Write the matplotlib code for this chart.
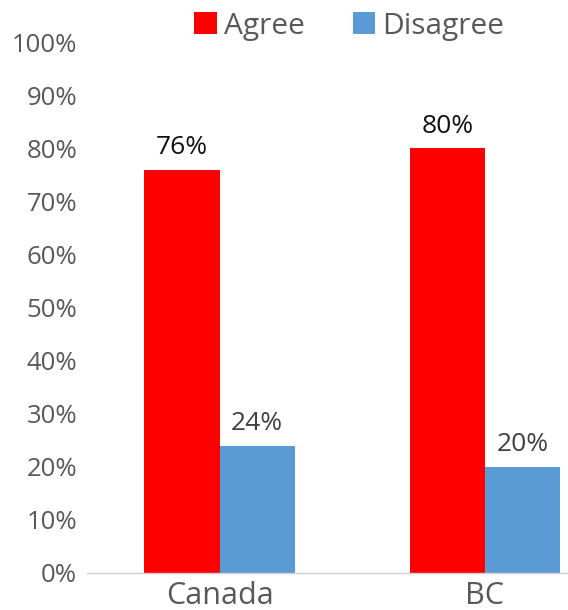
import numpy as np
import matplotlib.pyplot as plt

plt.rcParams['font.family'] = ['Open Sans', 'DejaVu Sans']

regions = ['Canada', 'BC']
agree = [76, 80]
disagree = [24, 20]
yticks = list(range(0, 101, 10))

fig = plt.figure(figsize=(5.68, 6.10), dpi=100)
ax = fig.add_axes([0.153, 0.0607, 0.847, 0.87])

x = np.arange(len(regions))
w = 0.283
b1 = ax.bar(x - w / 2, agree, w, color='#ff0000', label='Agree')
b2 = ax.bar(x + w / 2, disagree, w, color='#5b9bd5', label='Disagree')

for rect, v in zip(b1, agree):
    ax.annotate(f'{v}%', (rect.get_x() + rect.get_width() / 2, v),
                xytext=(0, 7), textcoords='offset points',
                ha='center', va='bottom', fontsize=19, color='#111111')
for rect, v in zip(b2, disagree):
    ax.annotate(f'{v}%', (rect.get_x() + rect.get_width() / 2, v),
                xytext=(0, 7), textcoords='offset points',
                ha='center', va='bottom', fontsize=19, color='#404040')

ax.set_ylim(0, 100)
ax.set_xlim(-0.5, 1.313)
ax.set_yticks(yticks)
ax.set_yticklabels([f'{t}%' for t in yticks], fontsize=18.5, color='#595959')
ax.set_xticks(x)
ax.set_xticklabels(regions, fontsize=22, color='#595959')
ax.tick_params(axis='both', length=0)
ax.tick_params(axis='y', pad=7)
ax.tick_params(axis='x', pad=6)

for s in ['top', 'right', 'left']:
    ax.spines[s].set_visible(False)
ax.spines['bottom'].set_color('#d0d0d0')
ax.spines['bottom'].set_linewidth(1.0)

fig.legend(loc='upper center', bbox_to_anchor=(0.615, 1.025), ncol=2,
           frameon=False, fontsize=21.5, handlelength=0.75, handleheight=0.75,
           handletextpad=0.25, columnspacing=1.6, labelcolor='#595959')

fig.savefig('out.png', dpi=100)
